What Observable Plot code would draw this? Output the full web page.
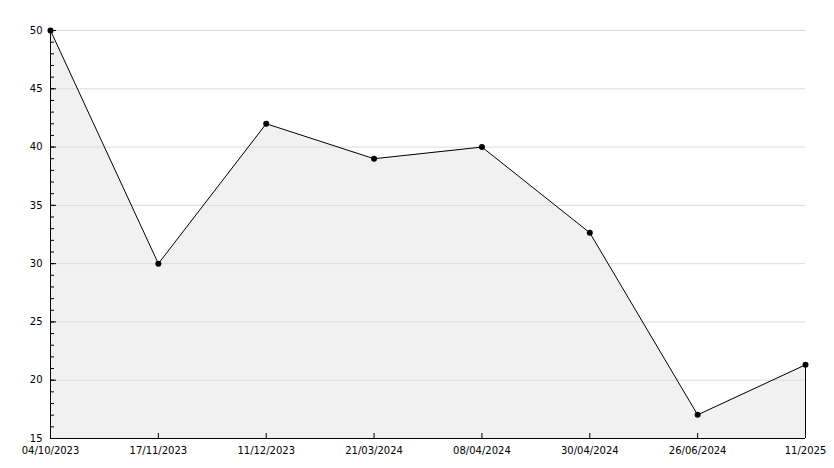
<!DOCTYPE html>
<html>
<head>
<meta charset="utf-8">
<script src="https://cdn.jsdelivr.net/npm/d3@7"></script>
<script src="https://cdn.jsdelivr.net/npm/@observablehq/plot@0.6"></script>
<style>
  html, body { margin: 0; padding: 0; background: #fff; overflow: hidden; }
  #chart svg { display: block; }
</style>
</head>
<body>
<div id="chart"></div>
<script>
const dates = ["04/10/2023", "17/11/2023", "11/12/2023", "21/03/2024", "08/04/2024", "30/04/2024", "26/06/2024", "11/2025"];
const values = [50, 30, 42, 39, 40, 32.65, 17.03, 21.32];
const yMajorTicks = [15, 20, 25, 30, 35, 40, 45, 50];
const yMinorTicks = d3.range(15, 51, 1);
const yGrid = [20, 25, 30, 35, 40, 45, 50];

const data = dates.map((d, i) => ({date: d, value: values[i]}));
const last = data[data.length - 1];

const chart = Plot.plot({
  width: 834,
  height: 468,
  marginLeft: 50,
  marginRight: 29,
  marginTop: 30,
  marginBottom: 30,
  style: {fontFamily: "DejaVu Sans", fontSize: "10px", background: "#fff", color: "#000"},
  x: {type: "point", domain: dates, padding: 0, round: false, label: null},
  y: {domain: [15, 50], label: null},
  marks: [
    Plot.areaY(data, {x: "date", y1: 15, y2: "value", fill: "#f1f1f1"}),
    Plot.gridY(yGrid, {stroke: "#dcdcdc", strokeOpacity: 1}),
    Plot.ruleX([last], {x: "date", y1: 15, y2: "value", stroke: "#000"}),
    Plot.lineY(data, {x: "date", y: "value", stroke: "#000", strokeWidth: 1}),
    Plot.dot(data, {x: "date", y: "value", r: 3, fill: "#000", stroke: "none"}),
    Plot.axisY(yMinorTicks, {tickSize: -4, text: null, stroke: "#000", label: null}),
    Plot.axisY(yMajorTicks, {tickSize: -6, text: null, stroke: "#000", label: null}),
    Plot.axisY(yMajorTicks, {tickSize: 0, tickPadding: 8, fill: "#000", label: null}),
    Plot.axisX(dates, {tickSize: -5, text: null, stroke: "#000", label: null}),
    Plot.axisX(dates, {tickSize: 0, tickPadding: 8, fill: "#000", label: null}),
    Plot.ruleX([dates[0]], {stroke: "#000"}),
    Plot.ruleY([15], {stroke: "#000"})
  ]
});
document.getElementById("chart").append(chart);
</script>
</body>
</html>
